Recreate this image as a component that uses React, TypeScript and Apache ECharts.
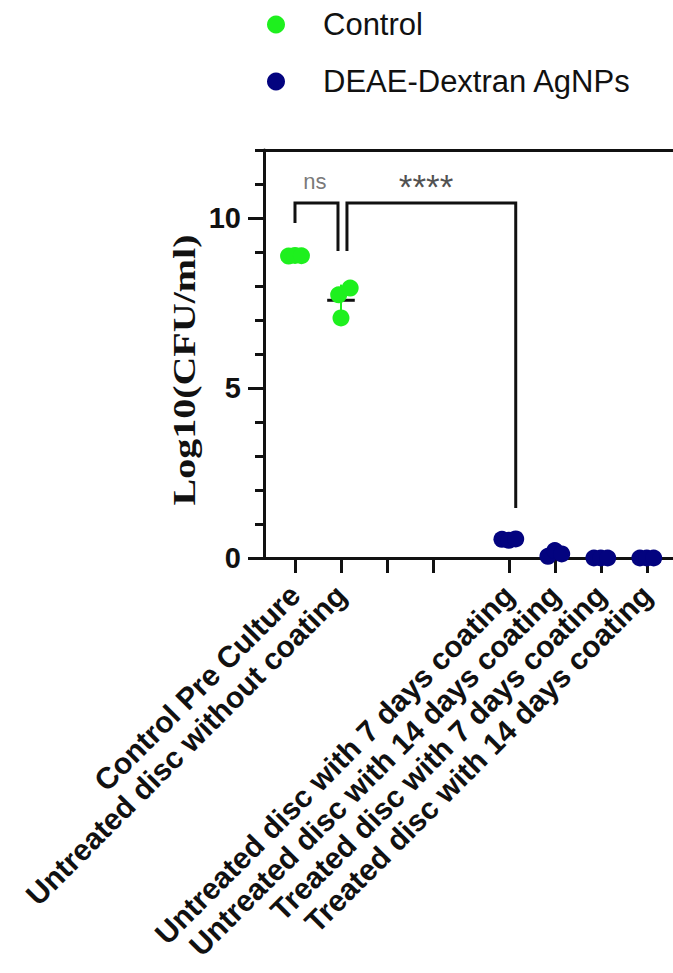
import React, { useEffect, useRef } from "react";
import * as echarts from "echarts";

// ---- data ----
const groupNames = [
  "Control Pre Culture",
  "Untreated disc without coating",
  "",
  "",
  "Untreated disc with 7 days coating",
  "Untreated disc with 14 days coating",
  "Treated disc with 7 days coating",
  "Treated disc with 14 days coating",
];
const groupPositions = [0, 1, 2, 3, 4.65, 5.65, 6.65, 7.65];

const controlPreCulture = [8.88, 8.9, 8.89];
const untreatedWithoutCoating = [7.74, 7.94, 7.06];
const untreated7Days = [0.55, 0.52, 0.56];
const untreated14Days = [0.05, 0.22, 0.12];
const treated7Days = [0, 0, 0];
const treated14Days = [0, 0, 0];

const yMajorTicks = [0, 5, 10];
const yMinorTicks = [0, 1, 2, 3, 4, 5, 6, 7, 8, 9, 10, 11, 12];

// significance brackets: [x, y] path in data units + label
const bracketNs = [[0, 9.85], [0, 10.44], [0.935, 10.44], [0.935, 9.03]];
const bracketStars = [[1.13, 9.03], [1.13, 10.44], [4.8, 10.44], [4.8, 1.47]];
const sigLabels = [
  { text: "ns", at: [0.435, 11.06] },
  { text: "****", at: [2.85, 10.92] },
];

// horizontal spread of replicate dots (layout)
const jitterCtrl0 = [-0.14, 0, 0.14];
const jitterCtrl1 = [-0.05, 0.2, 0];
const jitterNavy = [-0.15, 0, 0.15];

const GREEN = "#1ef01e";
const NAVY = "#03037f";
const INK = "#111111";

const controlGroups = [
  { idx: 0, values: controlPreCulture, jitter: jitterCtrl0 },
  { idx: 1, values: untreatedWithoutCoating, jitter: jitterCtrl1 },
];
const agGroups = [
  { idx: 4, values: untreated7Days, jitter: jitterNavy },
  { idx: 5, values: untreated14Days, jitter: jitterNavy },
  { idx: 6, values: treated7Days, jitter: jitterNavy },
  { idx: 7, values: treated14Days, jitter: jitterNavy },
];

const mean = (a: number[]) => a.reduce((s, v) => s + v, 0) / a.length;
const sd = (a: number[]) => {
  const m = mean(a);
  return Math.sqrt(a.reduce((s, v) => s + (v - m) * (v - m), 0) / (a.length - 1));
};

export default function App() {
  const ref = useRef<HTMLDivElement>(null);

  useEffect(() => {
    if (!ref.current) return;
    const chart = echarts.init(ref.current, null, { renderer: "svg" });

    const toPoints = (groups: typeof controlGroups) =>
      groups.flatMap((g) => g.values.map((v, i) => [groupPositions[g.idx] + g.jitter[i], v]));

    const segSeries = (name: string, data: number[][], color: string, width: number, z: number) => ({
      name,
      type: "line",
      xAxisIndex: 0,
      yAxisIndex: 0,
      data,
      symbol: "none",
      silent: true,
      z,
      lineStyle: { color, width, cap: "butt", join: "miter" },
    });

    const extraSeries: any[] = [];
    [...controlGroups, ...agGroups].forEach((g, k) => {
      const x = groupPositions[g.idx];
      const m = mean(g.values);
      const s = sd(g.values);
      const col = g.idx < 4 ? GREEN : NAVY;
      if (s > 0.01) {
        extraSeries.push(segSeries("err" + k, [[x, m - s], [x, m + s]], col, 2, 1));
      }
      extraSeries.push(segSeries("mean" + k, [[x - 0.3, m], [x + 0.3, m]], INK, 3, 2));
    });
    extraSeries.push(segSeries("bracketNs", bracketNs, INK, 3, 4));
    extraSeries.push(segSeries("bracketStars", bracketStars, INK, 3, 4));

    const axisLineStyle = { color: INK, width: 3 };
    const gridBox = { left: 264, right: 0, top: 150, bottom: 415, containLabel: false, outerBoundsMode: "none" };

    chart.setOption({
      animation: false,
      backgroundColor: "#ffffff",
      legend: {
        data: ["Control", "DEAE-Dextran AgNPs"],
        orient: "vertical",
        left: 267,
        top: 9,
        padding: 0,
        align: "left",
        icon: "circle",
        itemWidth: 18,
        itemHeight: 18,
        itemGap: 26,
        textStyle: {
          fontSize: 31,
          fontFamily: "Liberation Sans",
          color: INK,
          padding: [0, 0, 0, 33],
        },
      },
      grid: [{ ...gridBox }, { ...gridBox }],
      xAxis: [
        {
          gridIndex: 0,
          type: "value",
          min: -0.674,
          max: 8.22,
          position: "bottom",
          axisLine: { show: true, onZero: false, lineStyle: axisLineStyle },
          axisTick: { show: true, customValues: groupPositions, length: 15, lineStyle: { color: INK, width: 3 } },
          axisLabel: {
            customValues: groupPositions,
            rotate: 45,
            margin: 32,
            fontSize: 30,
            fontWeight: "bold",
            fontFamily: "Liberation Sans",
            color: INK,
            formatter: (v: number) => {
              const i = groupPositions.findIndex((p) => Math.abs(p - v) < 1e-6);
              return i >= 0 ? groupNames[i] : "";
            },
          },
          splitLine: { show: false },
        },
        {
          gridIndex: 1,
          type: "value",
          min: -0.674,
          max: 8.22,
          position: "top",
          axisLine: { show: true, onZero: false, lineStyle: axisLineStyle },
          axisTick: { show: false },
          axisLabel: { show: false },
          splitLine: { show: false },
        },
      ],
      yAxis: [
        {
          gridIndex: 0,
          type: "value",
          min: 0,
          max: 12,
          axisLine: { show: true, onZero: false, lineStyle: axisLineStyle },
          axisTick: { show: true, customValues: yMinorTicks, length: 9, lineStyle: { color: INK, width: 3 } },
          axisLabel: {
            customValues: yMajorTicks,
            margin: 23,
            fontSize: 29,
            fontWeight: "bold",
            fontFamily: "Liberation Sans",
            color: INK,
          },
          splitLine: { show: false },
        },
        {
          gridIndex: 1,
          type: "value",
          min: 0,
          max: 12,
          axisLine: { show: false, onZero: false },
          axisTick: { show: true, customValues: yMajorTicks, length: 16, lineStyle: { color: INK, width: 3 } },
          axisLabel: { show: false },
          splitLine: { show: false },
        },
      ],
      graphic: [
        {
          type: "text",
          x: 184,
          y: 370,
          rotation: Math.PI / 2,
          scaleX: 1.25,
          style: {
            text: "Log10(CFU/ml)",
            fontSize: 32,
            fontWeight: "bold",
            fontFamily: "Liberation Serif",
            fill: INK,
            align: "center",
            verticalAlign: "middle",
          },
        },
      ],
      series: [
        ...extraSeries,
        {
          name: "Control",
          type: "scatter",
          xAxisIndex: 0,
          yAxisIndex: 0,
          data: toPoints(controlGroups),
          symbol: "circle",
          symbolSize: 17,
          itemStyle: { color: GREEN, opacity: 1 },
          z: 3,
        },
        {
          name: "DEAE-Dextran AgNPs",
          type: "scatter",
          xAxisIndex: 0,
          yAxisIndex: 0,
          data: toPoints(agGroups),
          symbol: "circle",
          symbolSize: 17,
          itemStyle: { color: NAVY, opacity: 1 },
          z: 3,
        },
        {
          name: "significance",
          type: "scatter",
          xAxisIndex: 0,
          yAxisIndex: 0,
          symbolSize: 0,
          silent: true,
          z: 5,
          data: sigLabels.map((l) => ({
            value: l.at,
            label: {
              show: true,
              position: "inside",
              formatter: l.text,
              fontFamily: "Liberation Sans",
              fontSize: l.text === "ns" ? 22 : 35,
              color: l.text === "ns" ? "#555555" : "#222222",
            },
          })),
        },
      ],
    });

    return () => chart.dispose();
  }, []);

  return (
    <div
      ref={ref}
      style={{ position: "absolute", left: 0, top: 0, width: 673, height: 973, background: "#fff" }}
    />
  );
}
